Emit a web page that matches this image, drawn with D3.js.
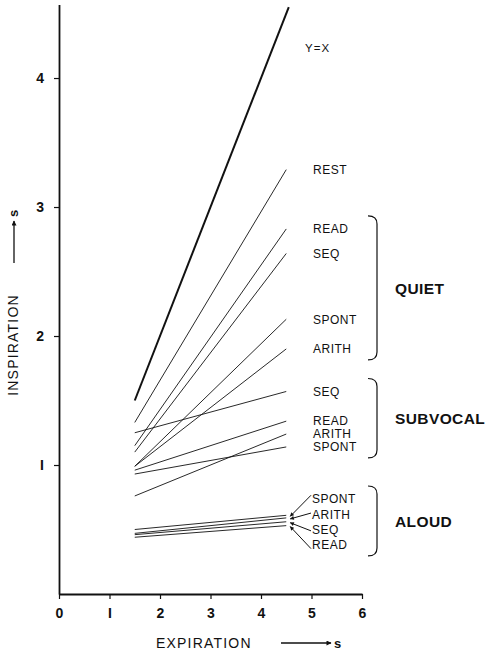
<!DOCTYPE html>
<html lang="en">
<head>
<meta charset="utf-8">
<title>Inspiration vs expiration</title>
<script src="https://cdn.jsdelivr.net/npm/d3@7"></script>
<style>
  body { margin: 0; background: #fff; }
  text { font-family: "Liberation Sans", Arial, sans-serif; fill: #111; }
</style>
</head>
<body>
<script>
// expiration values where every regression line is drawn (s)
var xEnds = [1.5, 4.5];
var identityEnds = [1.5, 4.55];

// inspiration (s) at the two ends of each line
var restStart = [1.33];
var restEnd = [3.29];

var quietNames = ["READ", "SEQ", "SPONT", "ARITH"];
var quietStart = [1.15, 1.10, 0.99, 0.99];
var quietEnd = [2.83, 2.64, 2.13, 1.90];

var subvocalNames = ["SEQ", "READ", "ARITH", "SPONT"];
var subvocalStart = [1.25, 0.96, 0.76, 0.93];
var subvocalEnd = [1.57, 1.34, 1.24, 1.14];

var aloudNames = ["SPONT", "ARITH", "SEQ", "READ"];
var aloudStart = [0.50, 0.47, 0.46, 0.44];
var aloudEnd = [0.61, 0.59, 0.56, 0.53];

var xTicks = [0, 1, 2, 3, 4, 5, 6];
var yTicks = [1, 2, 3, 4];

var w = 488, h = 652;
var svg = d3.select("body").append("svg")
    .attr("width", w)
    .attr("height", h);

var xScale = d3.scaleLinear().domain([0, 6]).range([59, 362]);
var yScale = d3.scaleLinear().domain([0, 4.57]).range([594, 4.5]);

var defs = svg.append("defs");
defs.append("marker")
    .attr("id", "head")
    .attr("viewBox", "0 0 10 10")
    .attr("refX", 9).attr("refY", 5)
    .attr("markerWidth", 7).attr("markerHeight", 5)
    .attr("markerUnits", "userSpaceOnUse")
    .attr("orient", "auto")
    .append("path").attr("d", "M0,0L10,5L0,10z").attr("fill", "#111");
defs.append("marker")
    .attr("id", "small")
    .attr("viewBox", "0 0 10 10")
    .attr("refX", 9).attr("refY", 5)
    .attr("markerWidth", 5).attr("markerHeight", 4)
    .attr("markerUnits", "userSpaceOnUse")
    .attr("orient", "auto")
    .append("path").attr("d", "M0,0L10,5L0,10z").attr("fill", "#111");

// axes
var xAxis = d3.axisBottom(xScale)
    .tickValues(xTicks)
    .tickSize(5).tickSizeOuter(0)
    .tickPadding(9)
    .tickFormat(function(d) { return d === 1 ? "I" : d; });
var yAxis = d3.axisLeft(yScale)
    .tickValues(yTicks)
    .tickSize(5).tickSizeOuter(0)
    .tickPadding(10)
    .tickFormat(function(d) { return d === 1 ? "I" : d; });

var gx = svg.append("g")
    .attr("transform", "translate(0," + yScale(0) + ")")
    .call(xAxis);
var gy = svg.append("g")
    .attr("transform", "translate(" + xScale(0) + ",0)")
    .call(yAxis);
[gx, gy].forEach(function(g) {
  g.select(".domain").attr("stroke", "#111").attr("stroke-width", 1.8);
  g.selectAll(".tick line").attr("stroke", "#111").attr("stroke-width", 1.2);
  g.selectAll(".tick text")
    .attr("font-family", "'Liberation Sans', Arial, sans-serif")
    .attr("font-size", 14).attr("font-weight", "bold").attr("fill", "#111");
});

// axis titles
svg.append("text")
   .attr("x", 156).attr("y", 648)
   .attr("font-size", 14).attr("letter-spacing", 1.2)
   .text("EXPIRATION");
svg.append("line")
   .attr("x1", 281).attr("x2", 331)
   .attr("y1", 643).attr("y2", 643)
   .attr("stroke", "#111").attr("stroke-width", 1.3)
   .attr("marker-end", "url(#head)");
svg.append("text")
   .attr("x", 334).attr("y", 648)
   .attr("font-size", 13).attr("font-weight", "bold")
   .text("s");

var yt = svg.append("g").attr("transform", "translate(18,345) rotate(-90)");
yt.append("text")
   .attr("x", 0).attr("y", 0)
   .attr("text-anchor", "middle")
   .attr("font-size", 14).attr("letter-spacing", 1.2)
   .text("INSPIRATION");
yt.append("line")
   .attr("x1", 82).attr("x2", 124)
   .attr("y1", -4).attr("y2", -4)
   .attr("stroke", "#111").attr("stroke-width", 1.3)
   .attr("marker-end", "url(#head)");
yt.append("text")
   .attr("x", 128).attr("y", 0)
   .attr("font-size", 13).attr("font-weight", "bold")
   .text("s");

// lines
function drawLines(starts, ends, width) {
  svg.append("g").selectAll("line")
     .data(starts)
     .enter()
     .append("line")
     .attr("x1", xScale(xEnds[0]))
     .attr("x2", xScale(xEnds[1]))
     .attr("y1", function(d) { return yScale(d); })
     .attr("y2", function(d, i) { return yScale(ends[i]); })
     .attr("stroke", "#111")
     .attr("stroke-width", width);
}

svg.append("line")
   .attr("x1", xScale(identityEnds[0])).attr("y1", yScale(identityEnds[0]))
   .attr("x2", xScale(identityEnds[1])).attr("y2", yScale(identityEnds[1]))
   .attr("stroke", "#111").attr("stroke-width", 2);

drawLines(restStart, restEnd, 0.9);
drawLines(quietStart, quietEnd, 0.9);
drawLines(subvocalStart, subvocalEnd, 0.9);
drawLines(aloudStart, aloudEnd, 0.9);

// labels at line ends
var labelX = 313;
function drawLabels(names, ends) {
  svg.append("g").selectAll("text")
     .data(names)
     .enter()
     .append("text")
     .attr("x", labelX)
     .attr("y", function(d, i) { return yScale(ends[i]); })
     .attr("dy", "0.36em")
     .attr("font-size", 12).attr("letter-spacing", 0.5)
     .text(function(d) { return d; });
}

svg.append("text")
   .attr("x", 305).attr("y", yScale(4.23))
   .attr("dy", "0.36em")
   .attr("font-size", 11.5).attr("letter-spacing", 1)
   .text("Y=X");

drawLabels(["REST"], restEnd);
drawLabels(quietNames, quietEnd);
drawLabels(subvocalNames, subvocalEnd);

// aloud labels are stacked and point back at the line ends
var aloudTop = 499, aloudStep = 15.3;
var ag = svg.append("g");
ag.selectAll("text")
  .data(aloudNames)
  .enter()
  .append("text")
  .attr("x", 312)
  .attr("y", function(d, i) { return aloudTop + i * aloudStep; })
  .attr("dy", "0.36em")
  .attr("font-size", 12).attr("letter-spacing", 0.5)
  .text(function(d) { return d; });
ag.selectAll("line")
  .data(aloudNames)
  .enter()
  .append("line")
  .attr("x1", 311)
  .attr("y1", function(d, i) { return aloudTop + i * aloudStep + (i - 1.5) * 2.5; })
  .attr("x2", xScale(xEnds[1]) + 4)
  .attr("y2", function(d, i) { return yScale(aloudEnd[i]) + 1; })
  .attr("stroke", "#111").attr("stroke-width", 1)
  .attr("marker-end", "url(#small)");

// braces with group names
function brace(top, bottom, name) {
  var xa = 368, xb = 377;
  svg.append("path")
     .attr("d", "M" + xa + "," + top +
                "Q" + xb + "," + top + " " + xb + "," + (top + 8) +
                "L" + xb + "," + (bottom - 8) +
                "Q" + xb + "," + bottom + " " + xa + "," + bottom)
     .attr("fill", "none")
     .attr("stroke", "#111")
     .attr("stroke-width", 1.2);
  svg.append("text")
     .attr("x", 395).attr("y", (top + bottom) / 2)
     .attr("dy", "0.36em")
     .attr("font-size", 15.5).attr("font-weight", "bold").attr("letter-spacing", 0.4)
     .text(name);
}

brace(yScale(d3.max(quietEnd)) - 13, yScale(d3.min(quietEnd)) + 11, "QUIET");
brace(yScale(d3.max(subvocalEnd)) - 13, yScale(d3.min(subvocalEnd)) + 11, "SUBVOCAL");
brace(aloudTop - 13, aloudTop + 3 * aloudStep + 11, "ALOUD");
</script>
</body>
</html>
